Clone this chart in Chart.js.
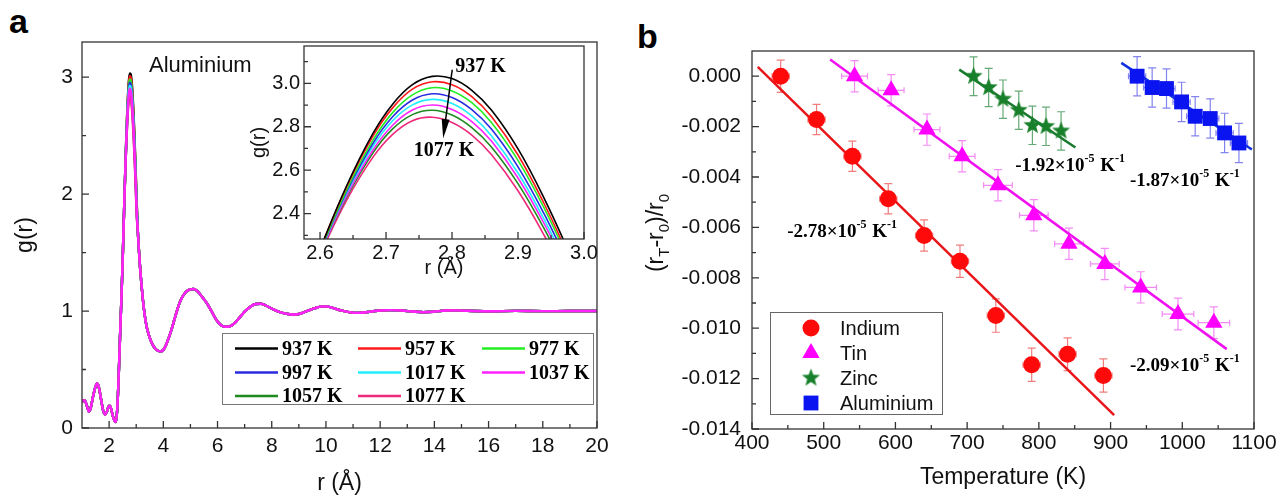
<!DOCTYPE html>
<html>
<head>
<meta charset="utf-8">
<script src="https://cdn.jsdelivr.net/npm/chart.js"></script>
<style>
  html, body { margin: 0; padding: 0; background: #fff; overflow: hidden; }
  body { width: 1277px; height: 495px; position: relative; }
  canvas { position: absolute; }
  .tag { position: absolute; font: bold 34px "Liberation Sans", Arial, sans-serif; line-height: 34px; color: #000; }
</style>
</head>
<body>
<div class="tag" style="left:9px;top:4px">a</div>
<div class="tag" style="left:637px;top:19px">b</div>
<canvas id="grMain" width="620" height="495" style="left:0;top:0"></canvas>
<canvas id="grInset" width="374" height="250" style="left:230px;top:30px"></canvas>
<canvas id="expansion" width="680" height="495" style="left:630px;top:0"></canvas>
<script>
'use strict';

// ---------- panel a : g(r) of liquid aluminium ----------
let temps = ['937 K', '957 K', '977 K', '997 K', '1017 K', '1037 K', '1057 K', '1077 K'];

// short range part, same for every temperature at this scale
let headR = [1.0, 1.05, 1.1, 1.18, 1.25, 1.32, 1.4, 1.48, 1.55, 1.62, 1.7, 1.78, 1.85, 1.92, 1.98, 2.03, 2.08, 2.14, 2.2, 2.25, 2.3, 2.35, 2.4, 2.45, 2.5];
let headG = [0.22, 0.235, 0.235, 0.19, 0.14, 0.17, 0.26, 0.34, 0.38, 0.35, 0.25, 0.15, 0.115, 0.14, 0.185, 0.19, 0.16, 0.1, 0.06, 0.05, 0.16, 0.42, 0.76, 1.08, 1.43];

// first peak, one row per temperature (also what the inset shows)
let peakR = [2.56, 2.60, 2.64, 2.68, 2.71, 2.74, 2.77, 2.80, 2.83, 2.86, 2.90, 2.94, 2.98, 3.02];
let peak937 = [1.915, 2.235, 2.526, 2.768, 2.904, 2.994, 3.032, 3.022, 2.968, 2.876, 2.698, 2.468, 2.203, 1.918];
let peak957 = [1.922, 2.236, 2.521, 2.756, 2.887, 2.973, 3.007, 2.994, 2.939, 2.846, 2.670, 2.443, 2.182, 1.902];
let peak977 = [1.918, 2.227, 2.507, 2.737, 2.865, 2.947, 2.980, 2.965, 2.911, 2.819, 2.645, 2.423, 2.166, 1.891];
let peak997 = [1.922, 2.226, 2.499, 2.723, 2.846, 2.923, 2.952, 2.935, 2.879, 2.788, 2.615, 2.396, 2.143, 1.873];
let peak1017 = [1.926, 2.224, 2.493, 2.709, 2.828, 2.901, 2.926, 2.907, 2.850, 2.758, 2.587, 2.371, 2.122, 1.856];
let peak1037 = [1.922, 2.216, 2.480, 2.692, 2.807, 2.877, 2.900, 2.880, 2.824, 2.733, 2.564, 2.351, 2.107, 1.846];
let peak1057 = [1.926, 2.216, 2.473, 2.679, 2.790, 2.856, 2.876, 2.854, 2.796, 2.706, 2.538, 2.328, 2.088, 1.830];
let peak1077 = [1.925, 2.209, 2.460, 2.659, 2.765, 2.828, 2.844, 2.820, 2.762, 2.671, 2.505, 2.298, 2.062, 1.809];

// long range oscillations
let tailR = [3.06, 3.1, 3.15, 3.2, 3.25, 3.3, 3.35, 3.4, 3.5, 3.6, 3.7, 3.8, 3.9, 4.0,
  4.1, 4.2, 4.3, 4.4, 4.5, 4.6, 4.7, 4.8, 4.9, 5.0, 5.1, 5.2, 5.3, 5.4, 5.5, 5.6, 5.7, 5.8, 5.9, 6.0, 6.1, 6.2, 6.3, 6.4, 6.5, 6.6,
  6.8, 7.0, 7.2, 7.4, 7.6, 7.8, 8.0, 8.2, 8.4, 8.6, 8.8, 9.0, 9.2, 9.4, 9.6, 9.8, 10.0, 10.2, 10.4, 10.6, 10.8, 11.0, 11.2, 11.4, 11.6, 11.8, 12.0,
  12.4, 12.8, 13.2, 13.6, 14.0, 14.4, 14.8, 15.2, 16, 17, 18, 19, 20];
let tailG = [1.68, 1.52, 1.35, 1.21, 1.09, 0.99, 0.91, 0.85, 0.77, 0.715, 0.68, 0.66, 0.655, 0.668,
  0.71, 0.77, 0.84, 0.92, 1.0, 1.07, 1.12, 1.155, 1.175, 1.185, 1.188, 1.18, 1.16, 1.13, 1.10, 1.07, 1.03, 0.99, 0.945, 0.91, 0.885, 0.87, 0.865, 0.866, 0.875, 0.89,
  0.94, 0.995, 1.035, 1.06, 1.062, 1.045, 1.02, 1.0, 0.985, 0.975, 0.97, 0.975, 0.99, 1.008, 1.025, 1.038, 1.04, 1.03, 1.015, 1.003, 0.993, 0.986, 0.984, 0.987, 0.993, 1.0, 1.005,
  1.008, 1.004, 0.996, 0.99, 0.995, 1.004, 1.006, 1.002, 0.998, 1.001, 0.999, 1.0, 1.0];

let aXTicks = [2, 4, 6, 8, 10, 12, 14, 16, 18, 20];
let aXMinor = [3, 5, 7, 9, 11, 13, 15, 17, 19];
let aYTicks = [0, 1, 2, 3];
let aYMinor = [0.5, 1.5, 2.5];
let insetXTicks = [2.6, 2.7, 2.8, 2.9, 3.0];
let insetXMinor = [2.65, 2.75, 2.85, 2.95];
let insetYTicks = [2.4, 2.6, 2.8, 3.0];
let insetYMinor = [2.3, 2.5, 2.7, 2.9, 3.1];

// ---------- panel b : relative change of nearest neighbour distance ----------
let seriesNames = ['Indium', 'Tin', 'Zinc', 'Aluminium'];

let inT = [440, 490, 540, 590, 640, 690, 740, 790, 840, 890];
let inY = [0.0, -0.00172, -0.00318, -0.00486, -0.00632, -0.00734, -0.0095, -0.01145, -0.01103, -0.01188];
let inErrY = [0.00064, 0.0006, 0.0006, 0.0006, 0.00062, 0.00064, 0.00066, 0.00066, 0.00065, 0.00066];
let inErrT = [12, 12, 12, 12, 12, 12, 12, 12, 12, 12];

let tinT = [543, 594, 644, 693, 743, 793, 842, 892, 942, 994, 1044];
let tinY = [0.0, -0.00056, -0.00212, -0.00318, -0.00433, -0.00552, -0.00665, -0.00745, -0.00838, -0.00944, -0.00978];
let tinErrY = [0.00062, 0.00062, 0.00062, 0.00062, 0.00062, 0.00062, 0.00062, 0.00062, 0.00062, 0.00063, 0.00063];
let tinErrT = [18, 18, 18, 18, 20, 20, 20, 20, 22, 22, 22];

let znT = [709, 730, 750, 772, 791, 810, 831];
let znY = [0.0, -0.00045, -0.00091, -0.00135, -0.00195, -0.00199, -0.00217];
let znErrY = [0.00077, 0.00076, 0.00076, 0.00076, 0.00076, 0.00076, 0.00076];
let znErrT = [0, 0, 0, 0, 0, 0, 0];

let alT = [937, 958, 978, 999, 1018, 1039, 1059, 1079];
let alY = [0.0, -0.00045, -0.00049, -0.00102, -0.00159, -0.00168, -0.00225, -0.00265];
let alErrY = [0.00078, 0.00078, 0.00078, 0.00078, 0.00078, 0.00078, 0.00078, 0.00078];
let alErrT = [12, 12, 12, 12, 12, 12, 12, 12];

// linear fits, end points as drawn
let fitT = [[408, 905], [509, 1062], [689, 851], [915, 1097]];
let fitY = [[0.00037, -0.01345], [0.00066, -0.01083], [0.00026, -0.00283], [0.00053, -0.00291]];
let slopeText = ['-2.78', '-2.09', '-1.92', '-1.87'];

let bXTicks = [400, 500, 600, 700, 800, 900, 1000, 1100];
let bXMinor = [450, 550, 650, 750, 850, 950, 1050];
let bYTicks = [-0.014, -0.012, -0.010, -0.008, -0.006, -0.004, -0.002, 0.0];
let bYMinor = [-0.013, -0.011, -0.009, -0.007, -0.005, -0.003, -0.001];

// ---------- styling ----------
const SANS = '"Liberation Sans", Arial, sans-serif';
const SERIF = '"Liberation Serif", "Times New Roman", serif';
let lineColors = ['#000000', '#ff1a1a', '#22ee22', '#2a2ae0', '#22eeff', '#ff22ff', '#1f8a1f', '#ee2a7a'];
let drawOrder = [7, 6, 5, 4, 3, 0, 2, 1];

function curve(peak) {
  let pts = [];
  headR.forEach((r, i) => pts.push({x: r, y: headG[i]}));
  peakR.forEach((r, i) => pts.push({x: r, y: peak[i]}));
  tailR.forEach((r, i) => pts.push({x: r, y: tailG[i]}));
  return pts;
}

function peakOnly(peak) {
  return peakR.map((r, i) => ({x: r, y: peak[i]}));
}

function setTicks(list) {
  return function (scale) { scale.ticks = list.map(v => ({value: v})); };
}

// box round the plot and inward tick marks
let frameTicks = {
  id: 'frameTicks',
  afterDatasetsDraw(chart, args, o) {
    let ctx = chart.ctx, a = chart.chartArea;
    let xs = chart.scales.x, ys = chart.scales.y;
    ctx.save();
    ctx.strokeStyle = '#333';
    ctx.lineWidth = 1.3;
    ctx.strokeRect(a.left, a.top, a.right - a.left, a.bottom - a.top);
    ctx.beginPath();
    o.xMajor.forEach(v => { let p = xs.getPixelForValue(v); ctx.moveTo(p, a.bottom); ctx.lineTo(p, a.bottom - 7); });
    o.xMinor.forEach(v => { let p = xs.getPixelForValue(v); ctx.moveTo(p, a.bottom); ctx.lineTo(p, a.bottom - 4); });
    o.yMajor.forEach(v => { let p = ys.getPixelForValue(v); ctx.moveTo(a.left, p); ctx.lineTo(a.left + 7, p); });
    o.yMinor.forEach(v => { let p = ys.getPixelForValue(v); ctx.moveTo(a.left, p); ctx.lineTo(a.left + 4, p); });
    ctx.stroke();
    ctx.restore();
  }
};

let tempLegend = {
  id: 'tempLegend',
  afterDraw(chart, args, o) {
    let ctx = chart.ctx, a = chart.chartArea;
    let bx = a.left + o.left, by = a.bottom - o.fromBottom;
    ctx.save();
    ctx.fillStyle = '#fff';
    ctx.fillRect(bx, by, o.width, o.height);
    ctx.strokeStyle = '#777';
    ctx.lineWidth = 1;
    ctx.strokeRect(bx + 0.5, by + 0.5, o.width, o.height);
    ctx.font = 'bold 20px ' + SERIF;
    ctx.textBaseline = 'middle';
    chart.data.datasets.forEach((ds, i) => {
      let x = bx + o.colX[i % 3], y = by + o.rowY[Math.floor(i / 3)];
      ctx.strokeStyle = ds.borderColor;
      ctx.lineWidth = 2.4;
      ctx.beginPath();
      ctx.moveTo(x, y);
      ctx.lineTo(x + o.lineLen, y);
      ctx.stroke();
      ctx.fillStyle = '#000';
      ctx.fillText(ds.label, x + o.lineLen + 4, y + 1);
    });
    ctx.fillStyle = '#111';
    ctx.font = '22px ' + SANS;
    ctx.fillText(o.title, a.left + 67, a.top + 24);
    ctx.restore();
  }
};

new Chart(document.getElementById('grMain'), {
  type: 'line',
  data: {
    datasets: temps.map((t, i) => ({
      label: t,
      data: curve([peak937, peak957, peak977, peak997, peak1017, peak1037, peak1057, peak1077][i]),
      borderColor: lineColors[i],
      borderWidth: 2.4,
      pointRadius: 0,
      cubicInterpolationMode: 'monotone',
      order: drawOrder[i]
    }))
  },
  options: {
    responsive: false,
    animation: false,
    devicePixelRatio: 1,
    layout: {padding: {top: 42, right: 23, left: 0, bottom: 0}},
    plugins: {
      legend: {display: false},
      tooltip: {enabled: false},
      frameTicks: {xMajor: aXTicks, xMinor: aXMinor, yMajor: aYTicks, yMinor: aYMinor},
      tempLegend: {left: 140, fromBottom: 95, width: 371, height: 71, colX: [13, 136, 260], rowY: [15.5, 39.5, 63], lineLen: 43, title: 'Aluminium'}
    },
    scales: {
      x: {
        type: 'linear', min: 1, max: 20,
        afterBuildTicks: setTicks(aXTicks),
        afterFit: s => { s.height = 67; },
        grid: {display: false, drawTicks: false},
        border: {display: false},
        ticks: {padding: 6, color: '#111', font: {family: SANS, size: 21}, callback: v => String(v)},
        title: {display: true, text: 'r (Å)', color: '#111', font: {family: SANS, size: 23, lineHeight: 1}, padding: {top: 0, bottom: 0}}
      },
      y: {
        min: 0, max: 3.3,
        afterBuildTicks: setTicks(aYTicks),
        afterFit: s => { s.width = 82; },
        grid: {display: false, drawTicks: false},
        border: {display: false},
        ticks: {padding: 9, color: '#111', font: {family: SANS, size: 21}, callback: v => String(v)},
        title: {display: true, text: 'g(r)', color: '#111', font: {family: SANS, size: 23, lineHeight: 1}, padding: {top: 14, bottom: 0}}
      }
    }
  },
  plugins: [frameTicks, tempLegend]
});

// inset: arrow and the two temperature labels
let insetNotes = {
  id: 'insetNotes',
  afterDraw(chart, args, o) {
    let ctx = chart.ctx, xs = chart.scales.x, ys = chart.scales.y;
    let x0 = xs.getPixelForValue(o.from[0]), y0 = ys.getPixelForValue(o.from[1]);
    let x1 = xs.getPixelForValue(o.to[0]), y1 = ys.getPixelForValue(o.to[1]);
    let ang = Math.atan2(y1 - y0, x1 - x0);
    ctx.save();
    ctx.strokeStyle = '#000';
    ctx.fillStyle = '#000';
    ctx.lineWidth = 1.5;
    ctx.beginPath();
    ctx.moveTo(x0, y0);
    ctx.lineTo(x1 - 16 * Math.cos(ang), y1 - 16 * Math.sin(ang));
    ctx.stroke();
    ctx.beginPath();
    ctx.moveTo(x1, y1);
    ctx.lineTo(x1 - 19 * Math.cos(ang) + 4 * Math.sin(ang), y1 - 19 * Math.sin(ang) - 4 * Math.cos(ang));
    ctx.lineTo(x1 - 19 * Math.cos(ang) - 4 * Math.sin(ang), y1 - 19 * Math.sin(ang) + 4 * Math.cos(ang));
    ctx.closePath();
    ctx.fill();
    ctx.font = 'bold 20px ' + SERIF;
    ctx.textBaseline = 'middle';
    ctx.textAlign = 'left';
    ctx.fillText(o.topLabel, xs.getPixelForValue(o.topAt[0]), ys.getPixelForValue(o.topAt[1]));
    ctx.textAlign = 'center';
    ctx.fillText(o.bottomLabel, xs.getPixelForValue(o.bottomAt[0]), ys.getPixelForValue(o.bottomAt[1]));
    ctx.restore();
  }
};

new Chart(document.getElementById('grInset'), {
  type: 'line',
  data: {
    datasets: temps.map((t, i) => ({
      label: t,
      data: peakOnly([peak937, peak957, peak977, peak997, peak1017, peak1037, peak1057, peak1077][i]),
      borderColor: lineColors[i],
      borderWidth: 1.6,
      pointRadius: 0,
      tension: 0.4
    }))
  },
  options: {
    responsive: false,
    animation: false,
    devicePixelRatio: 1,
    layout: {padding: {top: 14, right: 20, left: 0, bottom: 0}},
    plugins: {
      legend: {display: false},
      tooltip: {enabled: false},
      frameTicks: {xMajor: insetXTicks, xMinor: insetXMinor, yMajor: insetYTicks, yMinor: insetYMinor},
      insetNotes: {from: [2.8003, 3.0626], to: [2.7866, 2.7475], topLabel: temps[0], topAt: [2.8049, 3.076], bottomLabel: temps[7], bottomAt: [2.788, 2.688]}
    },
    scales: {
      x: {
        type: 'linear', min: 2.5757, max: 3.0,
        afterBuildTicks: setTicks(insetXTicks),
        afterFit: s => { s.height = 41; },
        grid: {display: false, drawTicks: false},
        border: {display: false},
        ticks: {padding: 2, color: '#111', font: {family: SANS, size: 20}, callback: v => v.toFixed(1)},
        title: {display: true, text: 'r (Å)', color: '#111', font: {family: SANS, size: 20, lineHeight: 1}, padding: {top: 0, bottom: 2}}
      },
      y: {
        min: 2.283, max: 3.172,
        afterBuildTicks: setTicks(insetYTicks),
        afterFit: s => { s.width = 74; },
        grid: {display: false, drawTicks: false},
        border: {display: false},
        ticks: {padding: 4, color: '#111', font: {family: SANS, size: 20}, callback: v => v.toFixed(1)},
        title: {display: true, text: 'g(r)', color: '#111', font: {family: SANS, size: 20, lineHeight: 1}, padding: {top: 19, bottom: 0}}
      }
    }
  },
  plugins: [frameTicks, insetNotes]
});

// ---------- panel b ----------
function makeStar(color, R, r) {
  let c = document.createElement('canvas');
  c.width = c.height = Math.ceil(2 * R + 2);
  let g = c.getContext('2d');
  let m = c.width / 2;
  g.beginPath();
  for (let k = 0; k < 10; k++) {
    let rad = k % 2 ? r : R;
    let ang = -Math.PI / 2 + k * Math.PI / 5;
    g.lineTo(m + rad * Math.cos(ang), m + rad * Math.sin(ang));
  }
  g.closePath();
  g.fillStyle = color;
  g.fill();
  return c;
}

let pointColors = ['#ff0a0a', '#ff00ff', '#18802a', '#0a14f0'];
let fitColors = ['#e8161a', '#f010f0', '#1a7a30', '#1030e0'];
let errColors = ['rgba(235,80,80,0.75)', 'rgba(240,100,240,0.75)', 'rgba(50,140,70,0.75)', 'rgba(90,90,235,0.75)'];
let starImg = makeStar(pointColors[2], 9.5, 4);
let pointStyles = ['circle', 'triangle', starImg, 'rect'];
let pointSizes = [8.5, 10, 9, 10.5];

function drawMarker(ctx, style, x, y, r, color) {
  ctx.fillStyle = color;
  ctx.beginPath();
  if (style === 'circle') {
    ctx.arc(x, y, r, 0, Math.PI * 2);
  } else if (style === 'triangle') {
    ctx.moveTo(x, y - r);
    ctx.lineTo(x + r * 0.866, y + r / 2);
    ctx.lineTo(x - r * 0.866, y + r / 2);
    ctx.closePath();
  } else if (style === 'rect') {
    let h = r * Math.SQRT1_2;
    ctx.rect(x - h, y - h, 2 * h, 2 * h);
  } else {
    ctx.drawImage(style, x - style.width / 2, y - style.height / 2);
    return;
  }
  ctx.fill();
}

let errorBars = {
  id: 'errorBars',
  beforeDatasetsDraw(chart, args, o) {
    let ctx = chart.ctx, xs = chart.scales.x, ys = chart.scales.y;
    ctx.save();
    ctx.lineWidth = 1.2;
    o.series.forEach(s => {
      ctx.strokeStyle = s.color;
      ctx.beginPath();
      s.t.forEach((t, i) => {
        let px = xs.getPixelForValue(t), py = ys.getPixelForValue(s.v[i]);
        let top = ys.getPixelForValue(s.v[i] + s.ey[i]), bot = ys.getPixelForValue(s.v[i] - s.ey[i]);
        ctx.moveTo(px, top); ctx.lineTo(px, bot);
        ctx.moveTo(px - 4, top); ctx.lineTo(px + 4, top);
        ctx.moveTo(px - 4, bot); ctx.lineTo(px + 4, bot);
        if (s.et[i]) {
          let l = xs.getPixelForValue(t - s.et[i]), r = xs.getPixelForValue(t + s.et[i]);
          ctx.moveTo(l, py); ctx.lineTo(r, py);
          ctx.moveTo(l, py - 3); ctx.lineTo(l, py + 3);
          ctx.moveTo(r, py - 3); ctx.lineTo(r, py + 3);
        }
      });
      ctx.stroke();
    });
    ctx.restore();
  }
};

let expansionNotes = {
  id: 'expansionNotes',
  afterDraw(chart, args, o) {
    let ctx = chart.ctx, a = chart.chartArea, xs = chart.scales.x, ys = chart.scales.y;
    ctx.save();
    ctx.fillStyle = '#000';
    ctx.textBaseline = 'middle';
    // slopes
    o.slopes.forEach(sl => {
      let x = xs.getPixelForValue(sl.at[0]), y = ys.getPixelForValue(sl.at[1]);
      [[sl.text + '×10', false], ['-5', true], [' K', false], ['-1', true]].forEach(p => {
        ctx.font = 'bold ' + (p[1] ? 12 : 19) + 'px ' + SERIF;
        ctx.fillText(p[0], x, p[1] ? y - 8 : y);
        x += ctx.measureText(p[0]).width + (p[1] ? 1 : 0);
      });
    });
    // legend
    let bx = a.left + o.legend.left, by = a.bottom - o.legend.fromBottom;
    ctx.fillStyle = '#fff';
    ctx.fillRect(bx, by, o.legend.width, o.legend.height);
    ctx.strokeStyle = '#666';
    ctx.lineWidth = 1;
    ctx.strokeRect(bx + 0.5, by + 0.5, o.legend.width, o.legend.height);
    ctx.font = '20px ' + SANS;
    seriesNames.forEach((n, i) => {
      let y = by + o.legend.rowY[i];
      drawMarker(ctx, pointStyles[i], bx + 41, y, pointSizes[i], pointColors[i]);
      ctx.fillStyle = '#111';
      ctx.fillText(n, bx + 70, y + 1);
    });
    // y title with subscripts
    ctx.translate(o.yTitle.x, (a.top + a.bottom) / 2 + o.yTitle.shift);
    ctx.rotate(-Math.PI / 2);
    let parts = [['(r', false], ['T', true], ['-r', false], ['0', true], [')/r', false], ['0', true]];
    let w = 0;
    parts.forEach(p => { ctx.font = (p[1] ? 15 : 23) + 'px ' + SANS; w += ctx.measureText(p[0]).width; });
    let x = -w / 2;
    ctx.fillStyle = '#111';
    ctx.textBaseline = 'alphabetic';
    parts.forEach(p => {
      ctx.font = (p[1] ? 15 : 23) + 'px ' + SANS;
      ctx.fillText(p[0], x, p[1] ? 14 : 8);
      x += ctx.measureText(p[0]).width;
    });
    ctx.restore();
  }
};

let pointSets = [[inT, inY], [tinT, tinY], [znT, znY], [alT, alY]];
let bDatasets = pointSets.map((s, i) => ({
  type: 'scatter',
  label: seriesNames[i],
  data: s[0].map((t, k) => ({x: t, y: s[1][k]})),
  pointStyle: pointStyles[i],
  pointRadius: pointSizes[i],
  backgroundColor: pointColors[i],
  borderColor: pointColors[i],
  borderWidth: 0,
  order: 0
}));
fitT.forEach((t, i) => bDatasets.push({
  type: 'line',
  label: seriesNames[i] + ' fit',
  data: [{x: t[0], y: fitY[i][0]}, {x: t[1], y: fitY[i][1]}],
  borderColor: fitColors[i],
  borderWidth: 2.5,
  pointRadius: 0,
  order: 1
}));

new Chart(document.getElementById('expansion'), {
  data: {datasets: bDatasets},
  options: {
    responsive: false,
    animation: false,
    devicePixelRatio: 1,
    layout: {padding: {top: 51, right: 56, left: 0, bottom: 0}},
    plugins: {
      legend: {display: false},
      tooltip: {enabled: false},
      frameTicks: {xMajor: bXTicks, xMinor: bXMinor, yMajor: bYTicks, yMinor: bYMinor},
      errorBars: {series: [
        {t: inT, v: inY, ey: inErrY, et: inErrT, color: errColors[0]},
        {t: tinT, v: tinY, ey: tinErrY, et: tinErrT, color: errColors[1]},
        {t: znT, v: znY, ey: znErrY, et: znErrT, color: errColors[2]},
        {t: alT, v: alY, ey: alErrY, et: alErrT, color: errColors[3]}
      ]},
      expansionNotes: {
        slopes: [
          {text: slopeText[0], at: [449, -0.0062]},
          {text: slopeText[1], at: [927, -0.01152]},
          {text: slopeText[2], at: [767, -0.00358]},
          {text: slopeText[3], at: [927, -0.00418]}
        ],
        legend: {left: 18, fromBottom: 117, width: 172, height: 102, rowY: [16, 41, 66, 91]},
        yTitle: {x: 25, shift: -7}
      }
    },
    scales: {
      x: {
        type: 'linear', min: 400, max: 1100,
        afterBuildTicks: setTicks(bXTicks),
        afterFit: s => { s.height = 66; },
        grid: {display: false, drawTicks: false},
        border: {display: false},
        ticks: {padding: 2, color: '#111', font: {family: SANS, size: 21}, callback: v => String(v)},
        title: {display: true, text: 'Temperature (K)', color: '#111', font: {family: SANS, size: 23, lineHeight: 1}, padding: {top: 0, bottom: 6}}
      },
      y: {
        type: 'linear', min: -0.014, max: 0.001,
        afterBuildTicks: setTicks(bYTicks),
        afterFit: s => { s.width = 122; },
        grid: {display: false, drawTicks: false},
        border: {display: false},
        ticks: {padding: 11, color: '#111', font: {family: SANS, size: 21}, callback: v => v.toFixed(3)}
      }
    }
  },
  plugins: [frameTicks, errorBars, expansionNotes]
});
</script>
</body>
</html>
